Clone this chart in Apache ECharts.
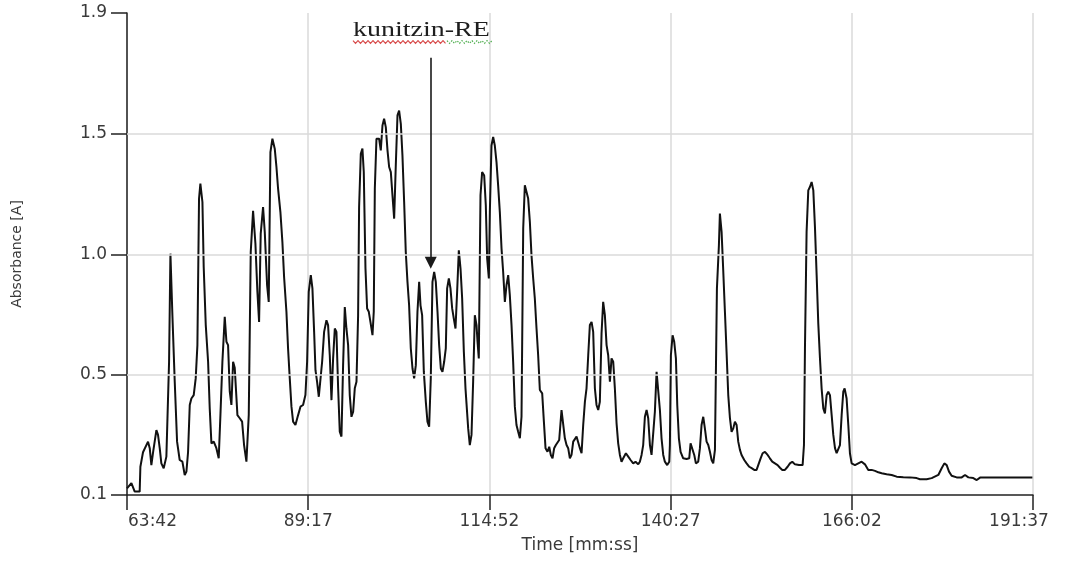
<!DOCTYPE html>
<html>
<head>
<meta charset="utf-8">
<script src="https://cdn.jsdelivr.net/npm/echarts@6/dist/echarts.min.js"></script>
<style>html,body{margin:0;padding:0;background:#fff;}#chart{width:1069px;height:562px;}</style>
</head>
<body>
<div id="chart"></div>
<script>
// ---- data (time in minutes, absorbance in A) ----
const timeMin = [
63.70,64.32,64.79,65.49,65.59,65.96,66.20,66.67,66.91,67.14,67.38,67.85,68.08,68.32,68.55,68.88,69.26,69.64,69.83,70.11,
70.44,70.77,71.14,71.52,71.85,72.09,72.32,72.56,72.79,73.12,73.40,73.64,73.87,74.06,74.35,74.53,74.82,75.15,75.38,75.62,
75.95,76.32,76.65,76.89,77.17,77.50,77.74,77.97,78.21,78.44,78.68,78.91,79.29,79.62,79.95,80.23,80.56,80.89,81.17,81.50,
81.83,82.11,82.35,82.58,82.91,83.15,83.48,83.71,83.95,84.23,84.56,84.80,85.03,85.36,85.64,85.88,86.21,86.44,86.68,86.92,
87.15,87.48,87.86,88.19,88.56,88.89,89.13,89.36,89.65,89.88,90.12,90.31,90.54,90.78,91.06,91.25,91.53,91.86,92.09,92.33,
92.57,92.80,93.04,93.27,93.51,93.74,93.98,94.21,94.45,94.68,94.92,95.15,95.39,95.63,95.86,96.10,96.33,96.47,96.71,96.94,
97.13,97.37,97.60,97.84,98.07,98.36,98.54,98.69,98.92,99.30,99.53,99.77,100.00,100.24,100.48,100.71,100.95,101.18,101.42,101.65,
101.89,102.12,102.36,102.59,102.83,103.06,103.30,103.53,103.77,104.01,104.24,104.48,104.71,104.95,105.14,105.37,105.61,105.89,106.12,106.36,
106.59,106.83,107.07,107.30,107.54,107.77,108.01,108.24,108.48,108.71,108.90,109.14,109.37,109.61,109.84,110.08,110.31,110.55,110.79,111.02,
111.26,111.49,111.87,112.10,112.34,112.57,112.81,113.05,113.19,113.37,113.61,113.84,114.13,114.36,114.55,114.79,114.93,115.16,115.40,115.63,
115.87,116.10,116.34,116.58,116.81,117.05,117.28,117.52,117.75,117.99,118.22,118.46,118.69,118.93,119.17,119.40,119.64,119.87,120.11,120.34,
120.58,120.81,121.05,121.28,121.52,121.75,121.99,122.32,122.56,122.79,123.07,123.31,123.54,123.78,124.01,124.25,124.49,124.72,125.05,125.29,
125.52,125.76,125.99,126.23,126.46,126.70,127.17,127.64,127.88,128.11,128.35,128.58,128.82,129.05,129.29,129.52,129.76,129.99,130.23,130.46,
130.70,130.93,131.17,131.41,131.64,131.88,132.11,132.35,132.58,132.82,133.05,133.29,133.52,133.76,134.14,134.47,134.80,135.17,135.50,135.88,
136.11,136.35,136.58,136.82,137.06,137.29,137.53,137.76,138.00,138.23,138.47,138.70,138.94,139.17,139.41,139.64,139.97,140.26,140.35,140.49,
140.73,140.96,141.20,141.39,141.62,141.86,142.23,142.71,143.08,143.27,143.55,143.79,144.02,144.35,144.59,144.82,145.06,145.29,145.53,145.77,
146.00,146.24,146.47,146.71,146.99,147.27,147.41,147.65,147.88,148.12,148.35,148.59,148.83,149.06,149.30,149.53,149.77,150.00,150.24,150.47,
150.85,151.18,151.56,151.89,152.26,152.59,152.83,153.16,153.44,153.77,154.15,154.47,154.80,155.18,155.56,155.89,156.22,156.59,156.97,157.30,
157.63,158.01,158.57,159.09,159.28,159.42,159.65,159.89,160.13,160.36,160.60,160.83,161.07,161.30,161.54,161.77,162.01,162.24,162.48,162.71,
162.95,163.19,163.42,163.66,163.89,164.13,164.36,164.60,164.83,165.02,165.30,165.54,165.77,166.01,166.48,166.95,167.42,167.89,168.36,168.83,
169.31,169.78,170.25,170.95,171.66,172.37,173.31,174.25,175.19,175.66,176.60,177.31,178.25,178.72,179.10,179.43,179.76,180.13,180.84,181.55,
182.02,182.49,183.19,183.67,184.14,188.14,191.53
];
const absorbance = [
0.030,0.052,0.017,0.017,0.120,0.180,0.176,0.224,0.197,0.127,0.180,0.272,0.252,0.197,0.134,0.114,0.162,0.555,1.003,0.748,
0.472,0.224,0.148,0.141,0.086,0.100,0.180,0.376,0.403,0.417,0.486,0.624,1.231,1.293,1.217,0.948,0.707,0.555,0.362,0.217,
0.224,0.197,0.155,0.334,0.555,0.741,0.638,0.624,0.431,0.376,0.555,0.530,0.334,0.321,0.307,0.210,0.141,0.334,1.010,1.180,
1.045,0.845,0.720,1.086,1.196,1.093,0.872,0.803,1.424,1.479,1.438,1.362,1.272,1.175,1.051,0.906,0.762,0.610,0.486,0.369,
0.307,0.293,0.334,0.369,0.376,0.417,0.555,0.845,0.914,0.859,0.679,0.520,0.472,0.410,0.417,0.555,0.679,0.727,0.707,0.582,
0.396,0.569,0.693,0.679,0.445,0.265,0.245,0.541,0.782,0.693,0.624,0.417,0.327,0.348,0.445,0.472,0.748,1.196,1.417,1.438,
1.341,0.941,0.776,0.762,0.720,0.665,0.762,1.272,1.479,1.479,1.431,1.534,1.562,1.527,1.431,1.362,1.341,1.245,1.148,1.369,
1.576,1.596,1.541,1.410,1.217,1.010,0.886,0.789,0.610,0.527,0.486,0.541,0.762,0.886,0.789,0.748,0.513,0.389,0.307,0.286,
0.486,0.886,0.927,0.886,0.762,0.624,0.527,0.513,0.555,0.610,0.859,0.900,0.859,0.776,0.734,0.693,0.845,1.017,0.941,0.817,
0.596,0.445,0.279,0.210,0.252,0.472,0.748,0.707,0.638,0.569,1.245,1.341,1.327,1.203,0.983,0.900,1.175,1.451,1.486,1.451,
1.382,1.286,1.175,1.024,0.927,0.803,0.872,0.914,0.831,0.707,0.555,0.369,0.293,0.265,0.238,0.327,1.107,1.286,1.286,1.231,
1.134,0.996,0.900,0.817,0.693,0.582,0.438,0.424,0.307,0.197,0.182,0.203,0.169,0.155,0.197,0.210,0.217,0.231,0.355,0.362,
0.238,0.210,0.197,0.155,0.169,0.224,0.245,0.197,0.176,0.293,0.389,0.445,0.582,0.707,0.720,0.679,0.445,0.376,0.355,0.389,
0.672,0.803,0.748,0.624,0.582,0.472,0.569,0.555,0.445,0.300,0.217,0.169,0.141,0.155,0.176,0.162,0.148,0.134,0.141,0.130,
0.141,0.169,0.210,0.327,0.355,0.321,0.210,0.169,0.176,0.348,0.513,0.520,0.355,0.238,0.169,0.141,0.127,0.141,0.210,0.582,
0.665,0.638,0.569,0.376,0.238,0.182,0.155,0.152,0.155,0.217,0.217,0.169,0.134,0.141,0.197,0.293,0.327,0.279,0.224,0.210,
0.182,0.148,0.134,0.190,0.859,1.038,1.169,1.093,0.934,0.762,0.596,0.417,0.321,0.265,0.279,0.307,0.293,0.224,0.190,0.169,
0.148,0.134,0.120,0.114,0.107,0.107,0.114,0.155,0.176,0.182,0.169,0.155,0.141,0.134,0.127,0.116,0.107,0.107,0.120,0.134,
0.141,0.130,0.127,0.127,0.210,0.610,1.093,1.265,1.280,1.300,1.265,1.114,0.914,0.714,0.569,0.445,0.362,0.341,0.417,0.431,
0.417,0.334,0.252,0.197,0.176,0.169,0.210,0.334,0.431,0.445,0.403,0.293,0.176,0.134,0.127,0.134,0.141,0.130,0.107,0.107,
0.103,0.097,0.093,0.089,0.086,0.079,0.077,0.076,0.073,0.068,0.068,0.073,0.086,0.114,0.134,0.127,0.100,0.083,0.076,0.076,
0.086,0.076,0.073,0.065,0.075,0.075,0.075
];
const xTickLabels = ['63:42','89:17','114:52','140:27','166:02','191:37'];
const yTickLabels = ['0.1','0.5','1.0','1.5','1.9'];
const yGridValues = [0.5, 1.0, 1.5];
const yRange = [0.003, 2.0];
const annotationText = 'kunitzin-RE';
const annotationTime = 106.59;       // minutes
const annotationFrom = 1.815;        // absorbance
const annotationTo = 0.965;          // absorbance

// ---- helpers ----
const toMin = s => { const p = s.split(':'); return +p[0] + (+p[1]) / 60; };
const xTickVals = xTickLabels.map(toMin);
const yTickVals = [yRange[0], 0.5, 1.0, 1.5, yRange[1]];
const seriesData = timeMin.map((t, i) => [t, absorbance[i]]);

function squiggle(x0, x1, y, amp, step) {
  const pts = [];
  let k = 0;
  for (let x = x0; x <= x1; x += step, k++) pts.push([x, y + (k % 2 ? amp : -amp)]);
  return pts;
}

const chart = echarts.init(document.getElementById('chart'), null, {renderer: 'canvas'});
const labelFont = 'DejaVu Sans';
chart.setOption({
  animation: false,
  backgroundColor: '#ffffff',
  grid: {left: 127, right: 36, top: 13, bottom: 67, containLabel: false},
  xAxis: {
    type: 'value',
    min: xTickVals[0],
    max: xTickVals[xTickVals.length - 1],
    name: 'Time [mm:ss]',
    nameLocation: 'middle',
    nameGap: 42,
    nameTextStyle: {fontFamily: labelFont, fontSize: 17, color: '#3a3a3a'},
    axisLine: {show: true, onZero: false, lineStyle: {color: '#222', width: 1.5}},
    axisTick: {show: true, length: 15, customValues: xTickVals, lineStyle: {color: '#222', width: 1.5}},
    axisLabel: {
      customValues: xTickVals,
      margin: 18,
      fontFamily: labelFont, fontSize: 17, color: '#3a3a3a',
      formatter: function (v) {
        let idx = 0, best = 1e9;
        xTickVals.forEach((tv, i) => { if (Math.abs(tv - v) < best) { best = Math.abs(tv - v); idx = i; } });
        if (idx === 0) return '{first|' + xTickLabels[idx] + '}';
        if (idx === xTickVals.length - 1) return '{last|' + xTickLabels[idx] + '}';
        return xTickLabels[idx];
      },
      rich: {
        first: {fontFamily: labelFont, fontSize: 17, color: '#3a3a3a', padding: [0, 0, 0, 51]},
        last: {fontFamily: labelFont, fontSize: 17, color: '#3a3a3a', padding: [0, 28, 0, 0]}
      }
    },
    splitLine: {show: true, lineStyle: {color: '#dadada', width: 1.5}}
  },
  yAxis: {
    type: 'value',
    min: yRange[0],
    max: yRange[1],
    name: 'Absorbance [A]',
    nameLocation: 'middle',
    nameGap: 103,
    nameTextStyle: {fontFamily: labelFont, fontSize: 14, color: '#3a3a3a'},
    axisLine: {show: true, lineStyle: {color: '#222', width: 1.5}},
    axisTick: {show: true, length: 16, customValues: yTickVals, lineStyle: {color: '#222', width: 1.5}},
    axisLabel: {
      customValues: yTickVals,
      margin: 20,
      fontFamily: labelFont, fontSize: 17, color: '#3a3a3a',
      formatter: function (v) {
        let idx = 0, best = 1e9;
        yTickVals.forEach((tv, i) => { if (Math.abs(tv - v) < best) { best = Math.abs(tv - v); idx = i; } });
        return yTickLabels[idx];
      }
    },
    splitLine: {show: false}
  },
  series: [
    {
      type: 'line',
      data: [],
      z: 1,
      markLine: {
        silent: true,
        symbol: ['none', 'none'],
        label: {show: false},
        lineStyle: {color: '#dadada', width: 1.5, type: 'solid'},
        data: yGridValues.map(v => ({yAxis: v}))
      }
    },
    {
      type: 'line',
      data: seriesData,
      z: 3,
      showSymbol: false,
      symbol: 'none',
      smooth: false,
      lineStyle: {color: '#111111', width: 2},
      markLine: {
        silent: true,
        symbol: ['none', 'triangle'],
        symbolSize: 12,
        label: {show: false},
        lineStyle: {color: '#1a1a1a', width: 1.6, type: 'solid'},
        itemStyle: {color: '#1a1a1a'},
        data: [[{coord: [annotationTime, annotationFrom]}, {coord: [annotationTime, annotationTo]}]]
      }
    }
  ],
  graphic: [
    {
      type: 'text', x: 353, y: 31, scaleX: 1.4, z: 10,
      style: {text: annotationText, fontFamily: 'Liberation Serif', fontSize: 20, fill: '#1e1e1e', align: 'left', verticalAlign: 'middle'}
    },
    {
      type: 'polyline', z: 10,
      shape: {points: squiggle(353, 447, 42, 1.3, 2.5)},
      style: {stroke: '#d84a4a', lineWidth: 1.2, fill: null}
    },
    {
      type: 'polyline', z: 10,
      shape: {points: squiggle(447, 493, 42, 1.3, 2.5)},
      style: {stroke: '#4fae4f', lineWidth: 1.2, fill: null, lineDash: [1.5, 1.5]}
    }
  ]
});
</script>
</body>
</html>
